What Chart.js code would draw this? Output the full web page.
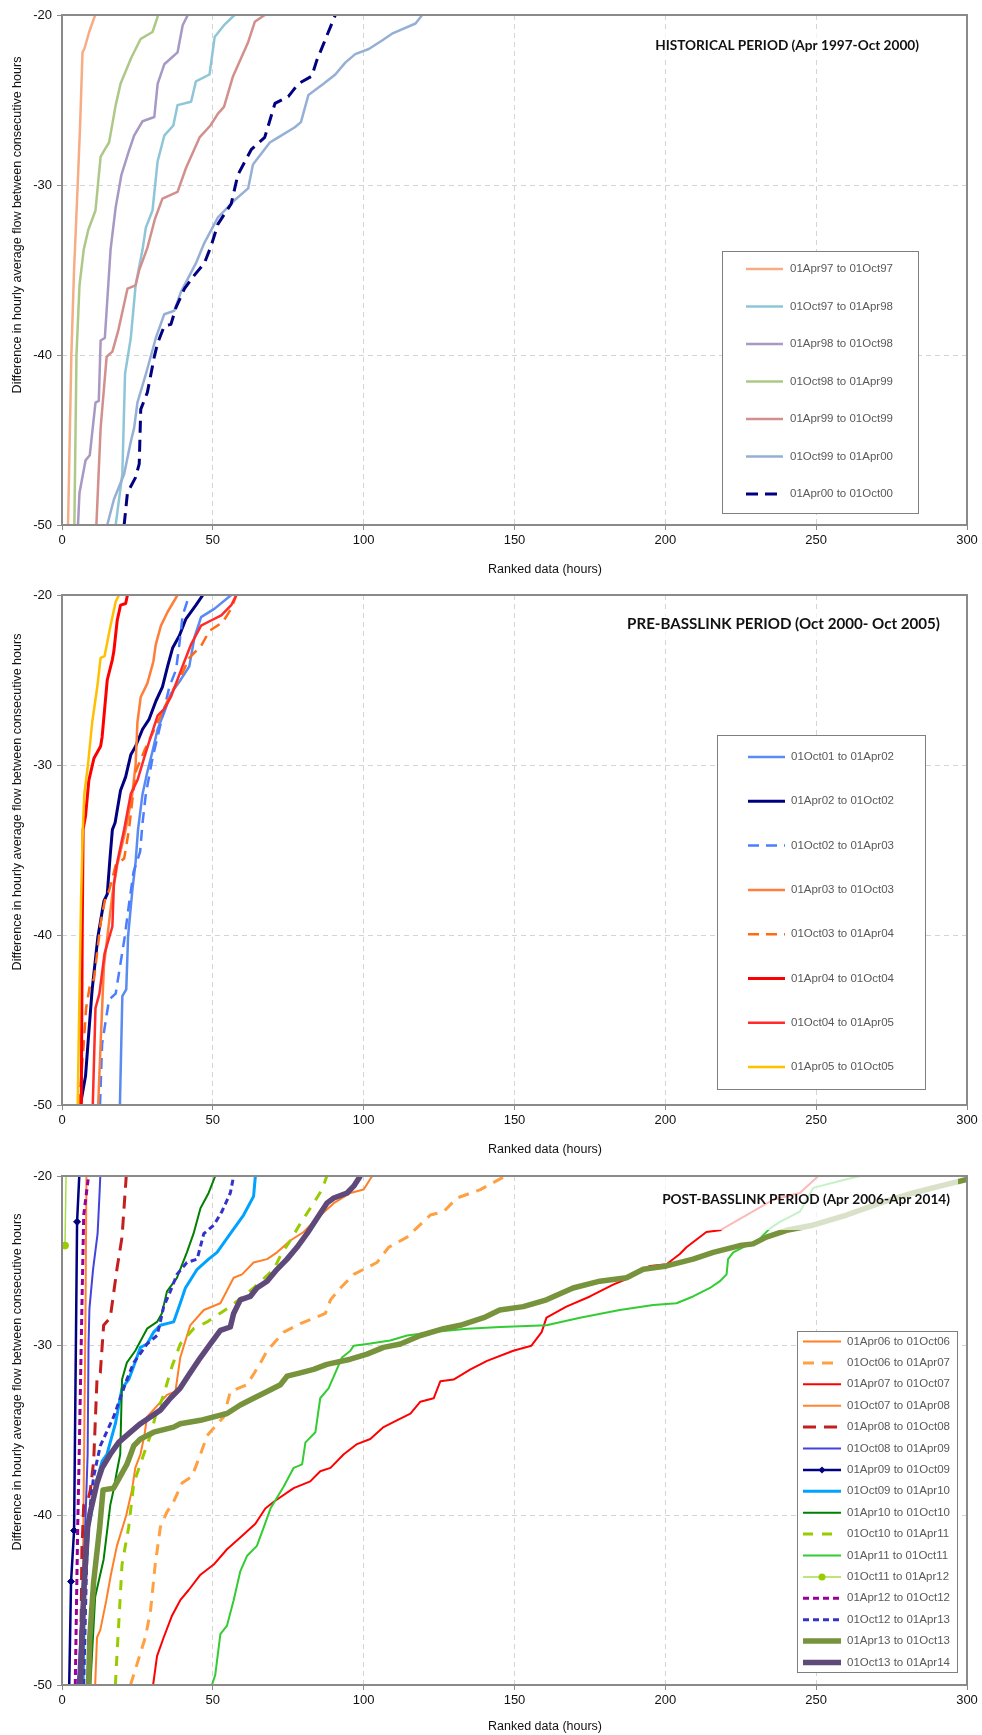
<!DOCTYPE html>
<html>
<head>
<meta charset="utf-8">
<script src="https://cdn.jsdelivr.net/npm/chart.js@4.4.1/dist/chart.umd.min.js"></script>
<style>
  html, body { margin: 0; padding: 0; background: #fff; }
  .panel { position: absolute; left: 0; width: 982px; }
</style>
</head>
<body>
<div class="panel" style="top:0;height:580px"><canvas id="historical"></canvas></div>
<div class="panel" style="top:580px;height:580px"><canvas id="prebasslink"></canvas></div>
<div class="panel" style="top:1160px;height:575px"><canvas id="postbasslink"></canvas></div>
<script>
// axis ticks shared by the three panels
const xTicks = [0, 50, 100, 150, 200, 250, 300];
const yTicks = [-50, -40, -30, -20];

// ---- historical period: [ranked hour, difference] ----
const hApr97 = [[2,-50],[3.1,-40],[4,-35],[5.2,-30],[6,-26.5],[6.8,-22.2],[7.4,-22],[9,-21],[11,-20]];
const hOct97 = [[17.8,-50],[20,-47],[20.9,-41.1],[22.8,-39],[24.4,-35.9],[26.7,-33.8],[27.8,-32.5],[30,-31.5],[31.7,-28.6],[33.9,-27.1],[36.9,-26.5],[38.3,-25.3],[42.8,-25.1],[44.4,-23.9],[48.9,-23.5],[50.6,-21.3],[53.7,-20.6],[57.2,-20]];
const hApr98 = [[5.3,-50],[5.8,-48.1],[7.8,-46.2],[9.2,-45.9],[11.1,-42.8],[12.2,-42.7],[12.8,-39.15],[14.2,-39],[16.1,-33.8],[17.8,-31.3],[19.7,-29.4],[22,-28.1],[23.9,-27.1],[26.7,-26.25],[30.6,-26],[31.7,-24.05],[33.9,-22.9],[38.3,-22.2],[40,-20.6],[41.7,-20]];
const hOct98 = [[4.1,-50],[4.8,-40],[5.8,-35.9],[7.2,-33.8],[8.7,-32.65],[11.1,-31.5],[11.9,-30],[12.8,-28.35],[14.2,-27.9],[15.6,-27.5],[17.8,-25.3],[19.4,-24.05],[23,-22.5],[26.1,-21.4],[30,-21],[31.9,-20]];
const hApr99 = [[11.4,-50],[12.8,-44.3],[14.8,-40.1],[16.7,-39.8],[18.6,-38.6],[21.7,-36.1],[24.4,-35.9],[25.6,-35],[28.3,-33.7],[30.8,-32],[33.3,-30.8],[38.3,-30.4],[41.1,-29],[45.6,-27.2],[49.2,-26.5],[51.7,-25.8],[53.7,-25.4],[56.7,-23.6],[61.7,-21.6],[63.9,-20.4],[67.2,-20]];
const hOct99 = [[15,-50],[17.2,-48.5],[20.6,-47],[22.8,-45.1],[23.9,-44.3],[25,-42.8],[28,-41],[31.1,-39],[33.9,-37.6],[37.2,-37.4],[39.4,-36.3],[44.4,-34.6],[47.2,-33.4],[51.7,-31.9],[57.2,-30.9],[61.7,-30.2],[63.3,-28.8],[68.9,-27.5],[71.7,-27.2],[77.2,-26.6],[79.2,-26.3],[81.7,-24.7],[86.7,-24.05],[90.6,-23.5],[93.9,-22.8],[97.2,-22.3],[101.7,-22],[106.1,-21.5],[109.4,-21.1],[117.2,-20.5],[119.4,-20]];
const hApr00 = [[20.6,-50],[21.7,-48.1],[24.4,-47.2],[25.6,-46.4],[26.1,-43.2],[28.3,-42.2],[30.6,-40.1],[31.7,-39.3],[33.9,-38.3],[36.1,-38.2],[37.8,-37.2],[40.6,-36.1],[43.9,-35.3],[47.2,-34.6],[49.4,-33.6],[51.7,-32.3],[56.1,-31.1],[58.3,-29.4],[62.8,-27.9],[67.2,-27.2],[70.6,-25.2],[75,-24.8],[78.3,-24.05],[82.8,-23.6],[84.4,-22.7],[88.3,-21],[90.6,-20]];

// ---- pre-Basslink period ----
const pOct01 = [[19.2,-50],[20,-43.6],[21.3,-43.2],[21.9,-40.1],[23.3,-37.4],[24.4,-35.7],[25.2,-33.8],[26.7,-31.7],[28.3,-30.4],[30,-29.2],[31.7,-27.9],[33.9,-26.9],[36.1,-25.8],[38.9,-25.1],[42.2,-24.2],[43.9,-22.5],[46.1,-21.3],[50.6,-20.8],[56.1,-20]];
const pApr02 = [[6.1,-50],[7.8,-48.3],[8.6,-46.4],[10,-43.2],[11.9,-40.1],[13.9,-38],[15,-37.6],[15.9,-35.5],[16.7,-33.8],[17.6,-33.4],[19.4,-31.5],[21.1,-30.7],[22.8,-29.4],[24.4,-28.9],[26.7,-27.9],[28.9,-27.3],[31.1,-26.25],[33.3,-25.4],[35,-24.2],[36.7,-23.1],[38.9,-22.4],[41.1,-21.4],[44.4,-20.6],[46.7,-20]];
const pOct02 = [[12.6,-50],[13.3,-46.4],[15.6,-43.8],[17.8,-43.45],[20.8,-40.1],[22.2,-38.2],[23.7,-36.3],[25.9,-35.1],[26.7,-33.4],[27.8,-31.7],[30,-29.6],[32.8,-27.5],[35.6,-25.4],[37.8,-24.4],[38.9,-22.9],[40,-21.2],[42.2,-20]];
const pApr03 = [[12,-50],[12.8,-46.4],[13.9,-41.8],[16.7,-37.6],[18.3,-35.9],[21.1,-33.8],[23.3,-31.7],[24.4,-30],[25,-27.5],[26.1,-26],[28.3,-25.2],[30.3,-23.9],[31.1,-22.9],[32.8,-21.8],[35,-21],[38.3,-20]];
const pOct03 = [[5.6,-50],[6.3,-48.5],[7.2,-46.4],[8,-44.3],[9.4,-42.8],[10.6,-42.6],[12.8,-39.3],[14.4,-37.8],[15.6,-37.4],[17.8,-35.9],[20.6,-35.5],[22.2,-33.8],[24.4,-30.4],[27.2,-29.2],[31.7,-27.5],[36.1,-25.8],[39.4,-24.8],[42.2,-23.7],[46.1,-23],[48.9,-22.1],[53.3,-21.6],[56.1,-20.8],[57.8,-20]];
const pApr04 = [[6.4,-50],[6.7,-40],[7,-33.8],[7.8,-33],[8.9,-30.9],[10.6,-29.6],[12.8,-28.9],[13.3,-28.35],[15,-25],[16.7,-23.8],[17.2,-23.3],[18.3,-21.5],[19.4,-20.6],[21.1,-20.5],[21.7,-20]];
const pOct04 = [[10.2,-50],[11.1,-44.3],[12.4,-43.45],[14.1,-41.1],[16.7,-39.5],[17.2,-37],[18.1,-35.9],[20.6,-33.8],[22.8,-31.7],[25,-30.9],[27.2,-29.6],[29.4,-28.35],[31.7,-27.1],[33.9,-26.7],[36.1,-26],[37.8,-25.2],[40.6,-23.9],[42.8,-22.9],[46.1,-21.8],[49.4,-21.5],[52.8,-21.2],[56.1,-20.6],[57.8,-20]];
const pApr05 = [[5.2,-50],[5.9,-42.2],[6.3,-38],[6.9,-33.8],[7.4,-31.7],[8.6,-30],[10,-27.5],[11.7,-25.4],[12.8,-23.7],[14.1,-23.6],[16.1,-21.8],[17.8,-20.4],[18.9,-20]];

// ---- post-Basslink period ----
const sApr06 = [[11,-50],[11.6,-47.2],[12.7,-46.75],[14.7,-45],[16.2,-43.5],[18.2,-41.8],[20.1,-40.7],[21.3,-40],[23.2,-38.5],[24.3,-37.2],[26,-36.4],[27.3,-35.3],[28.2,-34.2],[34.8,-32.9],[37.6,-32.7],[39.2,-30.7],[42.5,-28.8],[47,-27.9],[52.5,-27.5],[56.9,-26],[59.7,-25.8],[63.5,-25.1],[68,-24.9],[71.3,-24.5],[75.7,-23.8],[80.1,-23.3],[84.5,-22.5],[90.1,-21.6],[95.6,-21],[100,-20.8],[102.8,-20]];
const sOct06 = [[22.7,-50],[24.3,-49.1],[27.6,-47.2],[29.3,-45.7],[30.9,-42.9],[32.6,-40.7],[34.8,-39.8],[37,-39.2],[39.8,-38.1],[43.1,-37.7],[45.9,-36.4],[48.1,-35.3],[53.6,-34.2],[55.8,-32.7],[61.3,-32.3],[65.2,-31.2],[68,-30.3],[73.5,-29.2],[79,-28.7],[87.3,-28.1],[89,-27.3],[92.3,-26.6],[96.7,-25.8],[104.4,-25.1],[108.3,-24.2],[114.4,-23.6],[122.1,-22.3],[126.5,-22.1],[130.9,-21.3],[138.7,-20.8],[147,-20]];
const sApr07 = [[30.2,-50],[31.5,-48.3],[33.7,-47.2],[36.5,-45.9],[39.2,-45],[42,-44.4],[45.9,-43.5],[50.3,-42.9],[54.7,-42],[59.1,-41.3],[64.1,-40.5],[67.4,-39.6],[70.2,-39.2],[76.8,-38.4],[82.3,-38],[85.6,-37.4],[89,-37.2],[93.4,-36.4],[97.8,-35.8],[102.2,-35.5],[106.6,-34.8],[111,-34.4],[115.5,-34],[118.8,-33.3],[123.2,-33.1],[125.4,-32.1],[129.8,-32],[135.4,-31.4],[140.9,-30.9],[149.6,-30.3],[155.6,-30],[159,-29.2],[160.6,-28.35],[167.2,-27.7],[175,-27.1],[182.7,-26.4],[188.2,-26],[194.9,-25.3],[200.4,-25.2],[204.8,-24.6],[207,-24.2],[213.6,-23.3],[218.1,-23.2],[226.9,-22.3],[235.7,-21.4],[244.6,-21],[250.7,-20]];
const sOct07 = [[6.6,-50],[7,-42],[7.4,-35],[7.8,-28],[8.1,-20]];
const sApr08 = [[6.1,-50],[6.6,-42],[7.2,-39.4],[8.5,-39.2],[9.4,-38.5],[10.5,-36.8],[11.6,-32],[12.7,-31.6],[13.8,-28.8],[16,-28.35],[18.2,-25.5],[19.9,-23.6],[21.3,-20]];
const sOct08 = [[5.2,-50],[6.1,-47.2],[7.7,-40.7],[8.5,-36.4],[8.8,-29.9],[9.1,-27.8],[10.3,-25.5],[11.8,-23.4],[12.4,-21.2],[12.7,-20]];
const sApr09 = [[2,-54],[3,-43.9],[4,-40.9],[5,-22.7],[6,-19]];
const sOct09 = [[7,-50],[7.4,-45],[8.8,-40.7],[11.6,-37.9],[13.3,-36.8],[14.9,-36.4],[17.7,-34.6],[19.9,-32.5],[22.1,-32],[23.8,-31.2],[26,-30.1],[28.2,-29.9],[30.4,-29.2],[32.6,-28.8],[37,-28.6],[39.2,-27.5],[40.9,-26.6],[44.8,-25.5],[48.6,-24.9],[51.4,-24.5],[55.8,-23.4],[60.2,-22.3],[63.5,-21.2],[64.1,-20]];
const sApr10 = [[9.4,-50],[11,-44.8],[13.8,-42.6],[16,-39.4],[17.1,-38.5],[18.2,-37.4],[19.3,-36.4],[19.6,-34.2],[19.9,-32],[21.5,-31],[24.3,-30.3],[28.2,-29],[31.5,-28.6],[33.1,-28.1],[34.8,-26.8],[38.1,-26],[41.4,-24.5],[43.6,-23.4],[45.9,-21.9],[48.6,-21],[50.8,-20]];
const sOct10 = [[17.7,-50],[18.2,-48.3],[19.9,-42.9],[22.1,-40.7],[23.8,-38.1],[27.1,-36.4],[29.3,-35.3],[30.9,-34.2],[33.7,-32.9],[36.5,-31.2],[39.2,-29.9],[43.6,-29],[48.1,-28.6],[55.8,-27.7],[63.5,-26.6],[70.2,-25.5],[72.4,-24.7],[75.7,-23.8],[79,-22.8],[83.4,-21.6],[86.2,-20.8],[87.8,-20]];
const sApr11 = [[49.7,-50],[50.8,-49.4],[52.5,-47],[54.7,-46.5],[56.9,-45],[59.1,-43.3],[61.3,-42.4],[64.6,-41.8],[66.9,-40.7],[69.1,-39.6],[73.5,-38.3],[76.8,-37.2],[79.6,-37],[80.7,-35.7],[84,-35.1],[85.6,-33.1],[88.4,-32.5],[90.6,-31.6],[92.8,-30.7],[95.6,-30.3],[96.7,-30],[101.1,-29.9],[108.8,-29.7],[114.4,-29.4],[123.2,-29.2],[134.3,-29],[145.3,-28.9],[160.6,-28.8],[171.7,-28.35],[184.9,-27.9],[196,-27.6],[203.7,-27.5],[209.2,-27.1],[214.8,-26.6],[218.1,-26.2],[220.3,-25.8],[220.8,-24.9],[222.5,-24.5],[226.9,-24.1],[231.3,-23.7],[234.6,-23.1],[238,-22.7],[244.6,-22.1],[246.2,-21.6],[249,-20.7],[257.8,-20.3],[264.5,-20]];
const sOct11 = [[1,-24.1],[2,-12]];
const sApr12 = [[4.4,-50],[5.2,-40.7],[5.7,-36.4],[6.6,-27.7],[7.2,-22.3],[8.8,-20]];
const sOct12 = [[7.2,-50],[8,-44],[8.5,-40.7],[10.5,-37.7],[12.7,-35.9],[17.1,-34.2],[19.3,-33.1],[21.5,-32],[23.8,-31],[28.2,-29.9],[31.5,-29.4],[32.6,-28.6],[33.7,-27.7],[35.9,-26.8],[38.1,-25.8],[41.4,-25.1],[44.8,-24.9],[47,-23.4],[50.3,-22.9],[53,-22.1],[55.8,-21],[56.9,-20]];
const sApr13 = [[8.8,-50],[9.2,-47.2],[10.5,-43.9],[12.5,-40.7],[13.6,-38.5],[17.1,-38.4],[19.3,-37.7],[21.5,-37],[23.8,-35.9],[26,-35.5],[30.4,-35.1],[37,-34.8],[39.2,-34.6],[45.9,-34.4],[50.3,-34.2],[54.7,-34],[59.1,-33.5],[63.5,-33.1],[68,-32.7],[72.4,-32.3],[74.6,-31.8],[79,-31.6],[83.4,-31.4],[87.8,-31.1],[95.6,-30.8],[101.1,-30.5],[106.6,-30.1],[112.2,-29.9],[118.8,-29.4],[126.5,-29],[132,-28.8],[139.8,-28.35],[145.1,-27.9],[152.9,-27.7],[160.6,-27.3],[169.4,-26.6],[178.3,-26.2],[187.1,-26],[192.7,-25.5],[200.4,-25.3],[209.2,-24.9],[215.9,-24.5],[224.7,-24.1],[229.1,-24],[233.5,-23.6],[240.2,-23.2],[248.9,-22.9],[260.1,-22.3],[271.1,-21.6],[282.1,-21],[291,-20.6],[300,-20.2]];
const sOct13 = [[6.1,-50],[6.6,-47.2],[7.4,-43.9],[8.5,-40.7],[9.4,-39.8],[11.6,-38.1],[13.3,-37.2],[16,-36.4],[18.8,-35.7],[22.7,-35.1],[26,-34.6],[29.3,-34.2],[32.6,-33.8],[35.9,-33.1],[39.2,-32.5],[42.5,-31.6],[45.9,-30.7],[49.2,-29.9],[52.5,-29.1],[55.8,-28.9],[56.9,-28.1],[59.1,-27.3],[62.4,-27.1],[64.6,-26.6],[68,-26.2],[71.3,-25.5],[74.6,-24.9],[77.9,-24.2],[81.2,-23.4],[84.5,-22.5],[87.8,-21.6],[90.1,-21.3],[94.5,-21],[96.7,-20.6],[98.9,-20]];

const historicalLabels = ['01Apr97 to 01Oct97', '01Oct97 to 01Apr98', '01Apr98 to 01Oct98', '01Oct98 to 01Apr99', '01Apr99 to 01Oct99', '01Oct99 to 01Apr00', '01Apr00 to 01Oct00'];
const historicalSeries = [hApr97, hOct97, hApr98, hOct98, hApr99, hOct99, hApr00];
const preLabels = ['01Oct01 to 01Apr02', '01Apr02 to 01Oct02', '01Oct02 to 01Apr03', '01Apr03 to 01Oct03', '01Oct03 to 01Apr04', '01Apr04 to 01Oct04', '01Oct04 to 01Apr05', '01Apr05 to 01Oct05'];
const preSeries = [pOct01, pApr02, pOct02, pApr03, pOct03, pApr04, pOct04, pApr05];
const postLabels = ['01Apr06 to 01Oct06', '01Oct06 to 01Apr07', '01Apr07 to 01Oct07', '01Oct07 to 01Apr08', '01Apr08 to 01Oct08', '01Oct08 to 01Apr09', '01Apr09 to 01Oct09', '01Oct09 to 01Apr10', '01Apr10 to 01Oct10', '01Oct10 to 01Apr11', '01Apr11 to 01Oct11', '01Oct11 to 01Apr12', '01Apr12 to 01Oct12', '01Oct12 to 01Apr13', '01Apr13 to 01Oct13', '01Oct13 to 01Apr14'];
const postSeries = [sApr06, sOct06, sApr07, sOct07, sApr08, sOct08, sApr09, sOct09, sApr10, sOct10, sApr11, sOct11, sApr12, sOct12, sApr13, sOct13];

// line styles, one per series
const historicalStyles = [
    {color: '#F7AC84', width: 2.5},
    {color: '#8EC6D8', width: 2.5},
    {color: '#A898C4', width: 2.5},
    {color: '#ADC887', width: 2.5},
    {color: '#D28F8C', width: 2.5},
    {color: '#95AFD5', width: 2.5},
    {color: '#000080', width: 3, dash: [12, 7]}
];
const preStyles = [
    {color: '#5A8BF2', width: 2.5},
    {color: '#000080', width: 3},
    {color: '#4A7DFF', width: 2.5, dash: [11, 7]},
    {color: '#FF7E3A', width: 2.5},
    {color: '#FF6A13', width: 2.5, dash: [11, 7]},
    {color: '#FF0000', width: 3},
    {color: '#FF2A2A', width: 2.5},
    {color: '#FFC000', width: 2.5}
];
const postStyles = [
    {color: '#FF7F27', width: 2},
    {color: '#FFA041', width: 3, dash: [11, 8]},
    {color: '#FF0000', width: 2},
    {color: '#FF8533', width: 2},
    {color: '#C41F1F', width: 3, dash: [13, 8]},
    {color: '#4343DD', width: 2},
    {color: '#000080', width: 2.5, marker: 'rectRot', markerColor: '#000080'},
    {color: '#00A2FF', width: 3},
    {color: '#008000', width: 2},
    {color: '#99CC00', width: 3, dash: [10, 9]},
    {color: '#33CC33', width: 2},
    {color: '#A8DC4A', width: 1.5, marker: 'circle', markerColor: '#99CC00'},
    {color: '#990099', width: 3, dash: [6, 4]},
    {color: '#3333CC', width: 3, dash: [6, 4]},
    {color: '#77933C', width: 5.5},
    {color: '#5F497A', width: 5.5}
];

const Y_TITLE = 'Difference in hourly average flow between consecutive hours';
const X_TITLE = 'Ranked data (hours)';
const FONT = "'Liberation Sans', Arial, sans-serif";
Chart.defaults.font.family = FONT;

function buildDatasets(labels, series, styles) {
    const n = series.length;
    return series.map((points, i) => {
        const st = styles[i];
        return {
            label: labels[i],
            data: points,
            borderColor: st.color,
            backgroundColor: st.color,
            borderWidth: st.width,
            borderDash: st.dash || [],
            borderJoinStyle: 'round',
            pointRadius: st.marker ? 3.5 : 0,
            pointStyle: st.marker || 'circle',
            pointBackgroundColor: st.markerColor || st.color,
            pointBorderColor: st.markerColor || st.color,
            pointBorderWidth: 1,
            tension: 0,
            fill: false,
            // later series drawn on top, as in the source workbook
            order: n - i
        };
    });
}

function drawMarker(ctx, style, x, y, r, color) {
    ctx.save();
    ctx.fillStyle = color;
    ctx.strokeStyle = color;
    ctx.beginPath();
    if (style === 'rectRot') {
        ctx.moveTo(x, y - r); ctx.lineTo(x + r, y); ctx.lineTo(x, y + r); ctx.lineTo(x - r, y);
        ctx.closePath();
    } else {
        ctx.arc(x, y, r, 0, Math.PI * 2);
    }
    ctx.fill();
    ctx.restore();
}

const panelDecor = {
    id: 'panelDecor',
    afterDatasetsDraw(chart, args, opts) {
        const ctx = chart.ctx;
        const a = chart.chartArea;
        ctx.save();

        // plot frame
        ctx.strokeStyle = '#8A8A8A';
        ctx.lineWidth = 2;
        ctx.strokeRect(a.left, a.top, a.right - a.left, a.bottom - a.top);

        // period title with translucent backing
        const t = opts.title;
        ctx.fillStyle = 'rgba(255,255,255,0.72)';
        ctx.fillRect(t.box[0], t.box[1], t.box[2], t.box[3]);
        ctx.font = 'bold 14px Lato, ' + FONT;
        const size = 14 * t.width / ctx.measureText(t.text).width;
        ctx.font = 'bold ' + size.toFixed(2) + 'px Lato, ' + FONT;
        ctx.fillStyle = '#111';
        ctx.textAlign = 'right';
        ctx.textBaseline = 'middle';
        ctx.fillText(t.text, t.right, t.y);

        // boxed legend
        const L = opts.legend;
        ctx.fillStyle = '#fff';
        ctx.fillRect(L.x, L.y, L.w, L.h);
        ctx.strokeStyle = '#7F7F7F';
        ctx.lineWidth = 1;
        ctx.strokeRect(L.x + 0.5, L.y + 0.5, L.w, L.h);
        chart.data.datasets.forEach((ds, i) => {
            const y = L.first + i * L.gap;
            ctx.save();
            ctx.strokeStyle = ds.borderColor;
            ctx.lineWidth = ds.borderWidth;
            ctx.setLineDash(ds.borderDash || []);
            ctx.beginPath();
            ctx.moveTo(L.sampleX, y);
            ctx.lineTo(L.sampleX + L.sampleW, y);
            ctx.stroke();
            ctx.restore();
            if (ds.pointRadius) {
                drawMarker(ctx, ds.pointStyle, L.sampleX + L.sampleW / 2, y, ds.pointRadius, ds.pointBackgroundColor);
            }
            ctx.fillStyle = '#595959';
            ctx.font = L.font + 'px ' + FONT;
            ctx.textAlign = 'left';
            ctx.textBaseline = 'middle';
            ctx.fillText(ds.label, L.textX, y);
        });

        // axis titles
        ctx.fillStyle = '#111';
        ctx.font = '12.5px ' + FONT;
        ctx.textAlign = 'center';
        ctx.textBaseline = 'middle';
        ctx.fillText(X_TITLE, opts.xTitle[0], opts.xTitle[1]);
        ctx.translate(opts.yTitle[0], opts.yTitle[1]);
        ctx.rotate(-Math.PI / 2);
        ctx.fillText(Y_TITLE, 0, 0);
        ctx.restore();
    }
};

function makePanel(canvasId, labels, series, styles, deco, padTop, xAxisHeight) {
    const gridDash = [5, 4];
    return new Chart(document.getElementById(canvasId), {
        type: 'line',
        data: {datasets: buildDatasets(labels, series, styles)},
        options: {
            responsive: true,
            maintainAspectRatio: false,
            animation: false,
            layout: {padding: {top: padTop, right: 15, left: 0, bottom: 0}},
            scales: {
                x: {
                    type: 'linear',
                    min: xTicks[0],
                    max: xTicks[xTicks.length - 1],
                    ticks: {stepSize: xTicks[1] - xTicks[0], color: '#111', font: {size: 13}, padding: 3, maxRotation: 0},
                    grid: {color: '#D4D4D4', borderDash: gridDash, tickColor: '#8A8A8A', tickLength: 5, tickBorderDash: []},
                    border: {display: false, dash: gridDash},
                    afterFit: (scale) => { scale.height = xAxisHeight; }
                },
                y: {
                    type: 'linear',
                    min: yTicks[0],
                    max: yTicks[yTicks.length - 1],
                    ticks: {stepSize: yTicks[1] - yTicks[0], color: '#111', font: {size: 13}, padding: 5},
                    grid: {color: '#D4D4D4', borderDash: gridDash, tickColor: '#8A8A8A', tickLength: 5, tickBorderDash: []},
                    border: {display: false, dash: gridDash},
                    afterFit: (scale) => { scale.width = 62; }
                }
            },
            plugins: {
                legend: {display: false},
                title: {display: false},
                tooltip: {enabled: false},
                panelDecor: deco
            }
        },
        plugins: [panelDecor]
    });
}

makePanel('historical', historicalLabels, historicalSeries, historicalStyles, {
    title: {text: 'HISTORICAL PERIOD (Apr 1997-Oct 2000)', right: 919, y: 46, width: 264, box: [648, 32, 278, 28]},
    legend: {x: 722, y: 251, w: 196, h: 262, first: 269, gap: 37.5, sampleX: 746, sampleW: 37, textX: 790, font: 11.5},
    xTitle: [545, 570],
    yTitle: [18, 225]
}, 15, 55);

makePanel('prebasslink', preLabels, preSeries, preStyles, {
    title: {text: 'PRE-BASSLINK PERIOD (Oct 2000- Oct 2005)', right: 940, y: 44.5, width: 313, box: [620, 31, 328, 28]},
    legend: {x: 717, y: 155, w: 208, h: 354, first: 177, gap: 44.3, sampleX: 748, sampleW: 37, textX: 791, font: 11.5},
    xTitle: [545, 570],
    yTitle: [18, 222]
}, 15, 55);

makePanel('postbasslink', postLabels, postSeries, postStyles, {
    title: {text: 'POST-BASSLINK PERIOD (Apr 2006-Apr 2014)', right: 950, y: 40, width: 288, box: [654, 17, 304, 53]},
    legend: {x: 797, y: 171, w: 160, h: 341, first: 181.5, gap: 21.4, sampleX: 803, sampleW: 38, textX: 847, font: 11.5},
    xTitle: [545, 567],
    yTitle: [18, 222]
}, 16, 50);
</script>
</body>
</html>
